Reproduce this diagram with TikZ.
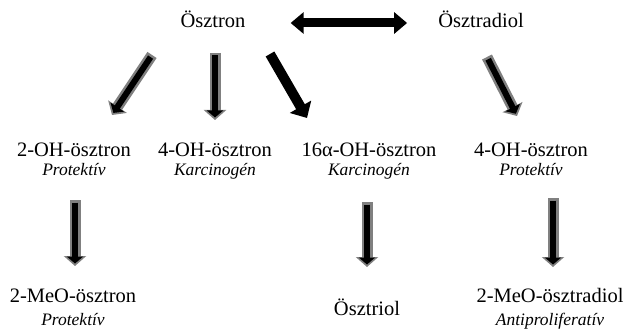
\documentclass[tikz,border=0pt]{standalone}
\usepackage{fontspec}
\setmainfont{Liberation Serif}
\usetikzlibrary{arrows.meta}

\newcommand{\hatas}[1]{{\fontsize{17.5}{19}\selectfont\itshape #1}}

\begin{document}
\begin{tikzpicture}[
    x=1pt, y=-1pt,
    vegyulet/.style={align=center, inner sep=0pt, anchor=base,
        font=\fontsize{20.5}{19}\selectfont},
    grayarrow/.style={black, line width=6pt, shorten <=2.5pt, shorten >=2.5pt,
        -{Triangle[length=7pt, width=16pt]},
        preaction={draw=gray, line width=11pt, shorten <=0pt, shorten >=0pt,
            -{Triangle[length=10pt, width=22pt]}}},
    blackarrow/.style={black, line width=10pt, -{Triangle[length=13pt, width=24pt]}},
    dblarrow/.style={black, line width=9pt,
        {Triangle[length=13pt, width=21pt]}-{Triangle[length=13pt, width=21pt]}}
]
\useasboundingbox (0,0) rectangle (627,329);

% Kiindulo vegyuletek
\node[vegyulet] (oestron) at (213,28) {Ösztron};
\node[vegyulet] (oestradiol) at (481,28) {Ösztradiol};

% Hidroxilalt metabolitok (base = also sor)
\node[vegyulet] (oh2) at (74,175) {2-OH-ösztron\\ \hatas{Protektív}};
\node[vegyulet] (oh4) at (215,175) {4-OH-ösztron\\ \hatas{Karcinogén}};
\node[vegyulet] (oh16) at (369,175) {16α-OH-ösztron\\ \hatas{Karcinogén}};
\node[vegyulet] (oh4r) at (531,175) {4-OH-ösztron\\ \hatas{Protektív}};

% Vegtermekek
\node[vegyulet] (meo2) at (73,325) {2-MeO-ösztron\\[4pt] \hatas{Protektív}};
\node[vegyulet] (triol) at (367,315) {Ösztriol};
\node[vegyulet] (meo2d) at (550,325) {2-MeO-ösztradiol\\[4pt] \hatas{Antiproliferatív}};

% Nyilak
\draw[dblarrow] ([shift={(45,-5)}]oestron.base east) -- ([shift={(-31,-5)}]oestradiol.base west);
\draw[grayarrow] ([shift={(-61,27)}]oestron.base) -- ([shift={(38,-60)}]oh2.base);
\draw[grayarrow] ([shift={(2,25)}]oestron.base) -- ([shift={(0,-55)}]oh4.base);
\draw[blackarrow] ([shift={(57,26)}]oestron.base) -- ([shift={(-62,-57)}]oh16.base);
\draw[grayarrow] ([shift={(6,29)}]oestradiol.base) -- ([shift={(-14,-59)}]oh4r.base);

\draw[grayarrow] ([shift={(1,25)}]oh2.base) -- ([shift={(2,-59)}]meo2.base);
\draw[grayarrow] ([shift={(-2,27)}]oh16.base) -- ([shift={(0,-48)}]triol.base);
\draw[grayarrow] ([shift={(22,23)}]oh4r.base) -- ([shift={(3,-58)}]meo2d.base);

\end{tikzpicture}
\end{document}
